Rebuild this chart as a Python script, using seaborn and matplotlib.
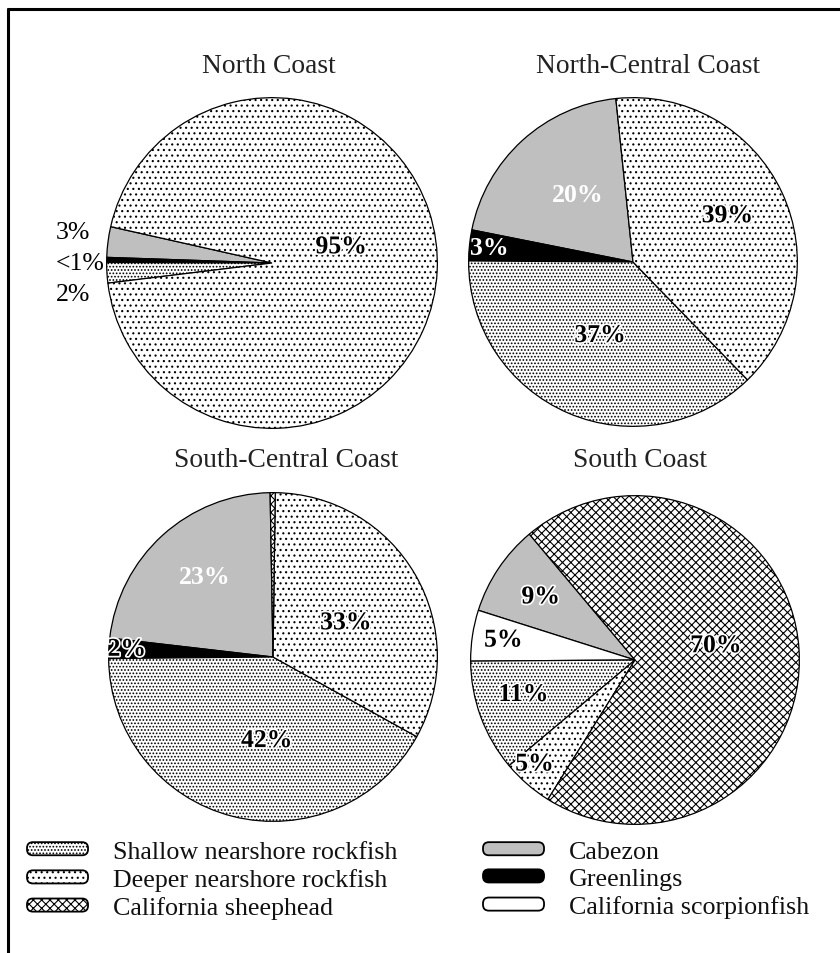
import matplotlib
matplotlib.use("Agg")
import matplotlib.pyplot as plt
import matplotlib.patches as mpatches
import matplotlib.patheffects as pe
from matplotlib.legend_handler import HandlerPatch
import numpy as np
import seaborn as sns

# ---- data -------------------------------------------------------------
groups = ["Cabezon", "Greenlings", "California scorpionfish",
          "Shallow nearshore rockfish", "Deeper nearshore rockfish",
          "California sheephead"]
regions = ["North Coast", "North-Central Coast", "South-Central Coast", "South Coast"]

north_coast = [3, 0.5, 0, 2, 95, 0]
north_central = [20, 3, 0, 37, 39, 0]
south_central = [23, 2, 0, 42, 33, 0.5]
south_coast = [9, 0, 5, 11, 5, 70]
region_values = [north_coast, north_central, south_central, south_coast]

# ---- styling ----------------------------------------------------------
sns.set_theme(style="white")
plt.rcParams["font.family"] = ["Liberation Serif", "DejaVu Serif"]
plt.rcParams["hatch.linewidth"] = 0.8

grey = sns.color_palette("Greys", 10)[3]
face = {"Cabezon": grey, "Greenlings": "black", "California scorpionfish": "white",
        "Shallow nearshore rockfish": "white", "Deeper nearshore rockfish": "white",
        "California sheephead": "white"}
hatch = {"Cabezon": None, "Greenlings": None, "California scorpionfish": None,
         "Shallow nearshore rockfish": ".....", "Deeper nearshore rockfish": "...",
         "California sheephead": "xxxx"}

W, H = 840, 954
fig = plt.figure(figsize=(W / 100, H / 100), dpi=100)

# panel geometry in pixels: centre x, centre y (from top), radius, start angle
panels = [
    dict(cx=272, cy=264, r=167, start=167.3, tx=269, ty=73),
    dict(cx=633, cy=263, r=166, start=96.0, tx=648, ty=73),
    dict(cx=273, cy=658, r=166, start=91.0, tx=286, ty=467),
    dict(cx=635, cy=661, r=166, start=130.0, tx=640, ty=467),
]

# inside labels: group -> (radial fraction, angle shift, colour)
inside = [
    {"Deeper nearshore rockfish": (0.43, 16, "black")},
    {"Cabezon": (0.53, -3, "white"), "Greenlings": (0.88, 0, "white"),
     "Shallow nearshore rockfish": (0.49, -1, "black"),
     "Deeper nearshore rockfish": (0.64, 1, "black")},
    {"Cabezon": (0.64, -2, "white"), "Greenlings": (0.89, 0, "black"),
     "Shallow nearshore rockfish": (0.51, 10, "black"),
     "Deeper nearshore rockfish": (0.49, -5, "black")},
    {"Cabezon": (0.69, 0, "black"), "California scorpionfish": (0.81, 0, "black"),
     "Shallow nearshore rockfish": (0.71, -3, "black"),
     "Deeper nearshore rockfish": (0.88, -3, "black"),
     "California sheephead": (0.50, 6, "black")},
]
# labels set beside the North Coast pie (group -> y in data units)
outside_nc = {"Cabezon": 0.19, "Greenlings": 0.0, "Shallow nearshore rockfish": -0.19}


def pct(v):
    return "<1%" if v < 1 else f"{v:.0f}%"


for name, vals, geo, lab in zip(regions, region_values, panels, inside):
    cx, cy, r = geo["cx"], geo["cy"], geo["r"]
    ax = fig.add_axes([(cx - r) / W, (H - cy - r) / H, 2 * r / W, 2 * r / H])
    keep = [(g, v) for g, v in zip(groups, vals) if v > 0]
    names = [g for g, _ in keep]
    sizes = [v for _, v in keep]
    wedges, _ = ax.pie(sizes, startangle=geo["start"], counterclock=True,
                       colors=[face[g] for g in names], radius=1,
                       wedgeprops=dict(edgecolor="black", linewidth=0.9))
    for w, g in zip(wedges, names):
        if hatch[g]:
            w.set_hatch(hatch[g])
    ax.set_xlim(-1.01, 1.01)
    ax.set_ylim(-1.01, 1.01)
    ax.set_aspect("equal")
    ax.axis("off")

    for w, g, v in zip(wedges, names, sizes):
        if g in lab:
            dist, shift, col = lab[g]
            ang = np.deg2rad((w.theta1 + w.theta2) / 2 + shift)
            t = ax.text(dist * np.cos(ang), dist * np.sin(ang), pct(v),
                        ha="center", va="center", fontsize=18.5,
                        fontweight="bold", color=col)
            if col == "black":
                t.set_path_effects([pe.withStroke(linewidth=2.5, foreground="white")])
    if name == "North Coast":
        for g, y in outside_nc.items():
            ax.text(-1.305, y, pct(vals[groups.index(g)]), ha="left",
                    va="center", fontsize=18.5, color="black")

    fig.text(geo["tx"] / W, 1 - geo["ty"] / H, name, ha="center",
             va="baseline", fontsize=19.8, color="#222222")


# ---- legend -----------------------------------------------------------
class RoundedKey(HandlerPatch):
    """Legend key drawn as a thin bar with rounded ends."""

    def create_artists(self, legend, orig_handle, xdescent, ydescent,
                       width, height, fontsize, trans):
        bar = mpatches.FancyBboxPatch(
            (-xdescent, -ydescent), width, height,
            boxstyle=f"round,pad=0,rounding_size={height * 0.45}",
            facecolor=orig_handle.get_facecolor(), edgecolor="black",
            hatch=orig_handle.get_hatch(), linewidth=1.3, transform=trans)
        return [bar]


def handle(g):
    return mpatches.Patch(facecolor=face[g], edgecolor="black", hatch=hatch[g],
                          linewidth=1.2, label=g)


left_col = ["Shallow nearshore rockfish", "Deeper nearshore rockfish", "California sheephead"]
right_col = ["Cabezon", "Greenlings", "California scorpionfish"]
common = dict(loc="upper left", frameon=False, fontsize=18.7, borderpad=0,
              borderaxespad=0, handlelength=2.35, handleheight=0.4,
              handletextpad=0.95, labelspacing=0.2,
              handler_map={mpatches.Patch: RoundedKey()})
for cols, x0 in ((left_col, 27), (right_col, 483)):
    leg = fig.legend(handles=[handle(g) for g in cols],
                     bbox_to_anchor=(x0 / W, 1 - 842 / H), **common)
    for txt in leg.get_texts():
        txt.set_color("#111111")

# frame lines along the top and left edges
fig.add_artist(plt.Line2D([8 / W, 8 / W], [0, 1 - 10 / H], color="black", lw=2.2))
fig.add_artist(plt.Line2D([8 / W, 1], [1 - 10 / H, 1 - 10 / H], color="black", lw=2.2))

fig.savefig("out.png", dpi=100, facecolor="white")
